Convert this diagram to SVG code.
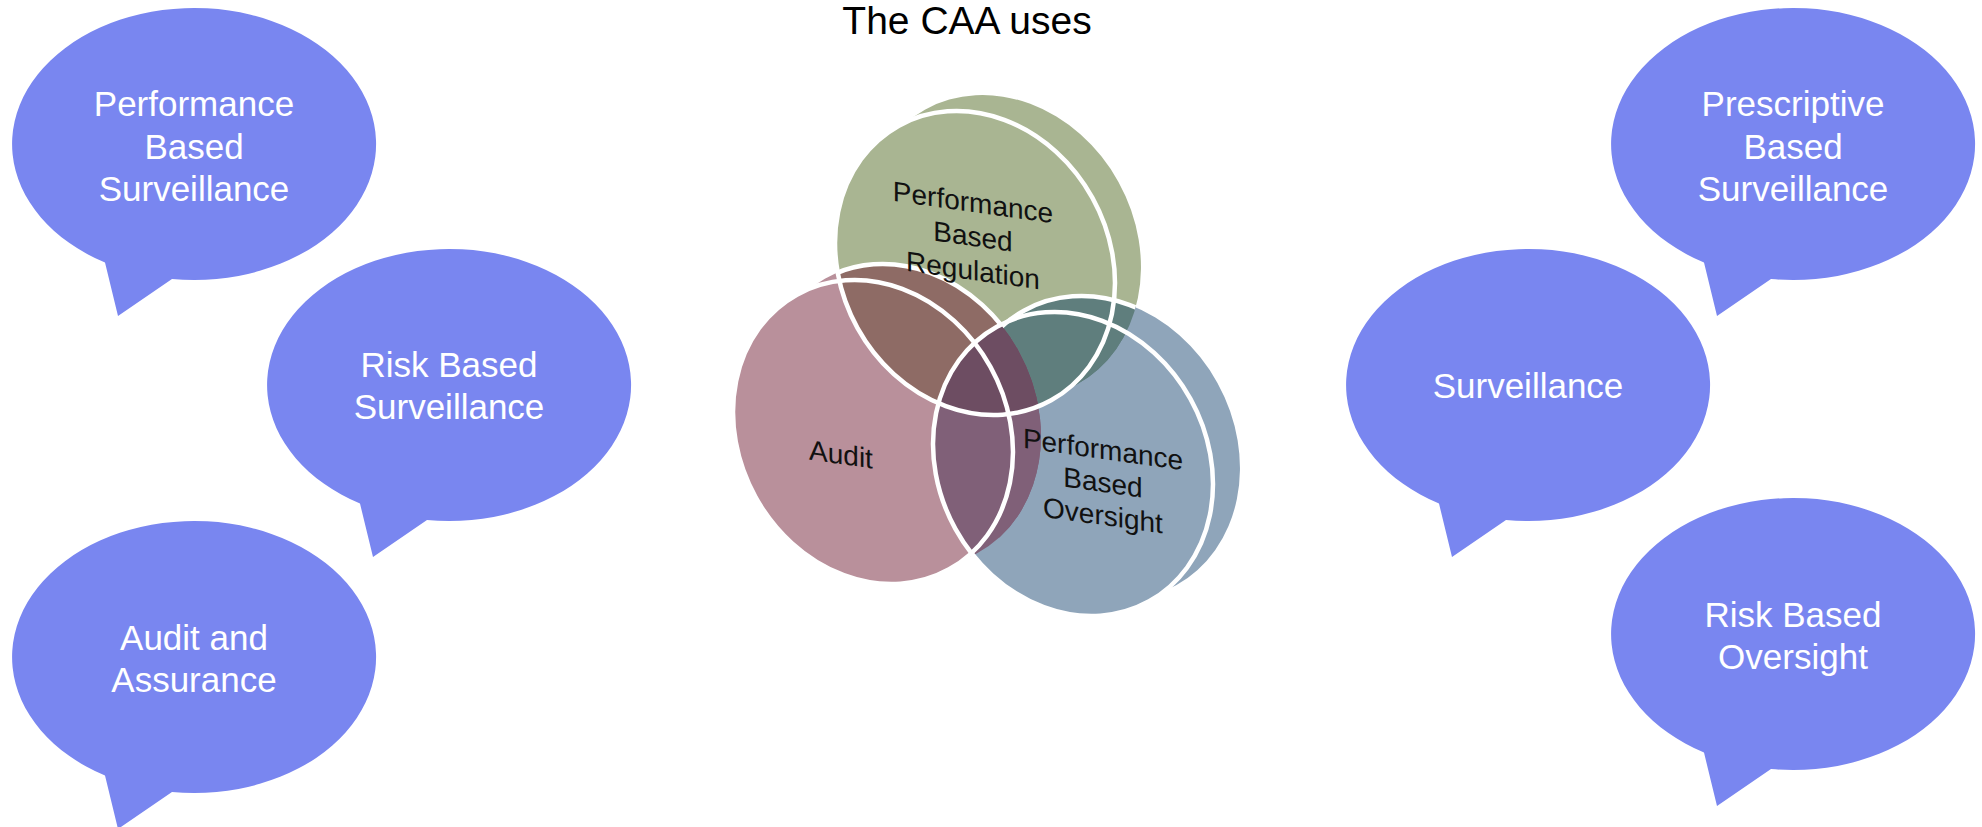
<svg xmlns="http://www.w3.org/2000/svg" xmlns:xlink="http://www.w3.org/1999/xlink" width="1982" height="827" viewBox="0 0 1982 827">
<style>
.bub{fill:#7986F0}
.bt{font-family:"Liberation Sans",Arial,sans-serif;font-size:35px;fill:#ffffff;text-anchor:middle}
.title{font-family:"Liberation Sans",Arial,sans-serif;font-size:39px;fill:#000000;text-anchor:middle}
.vt{font-family:"Liberation Sans",Arial,sans-serif;font-size:28px;fill:#111111;text-anchor:middle}
.g{fill:#A9B592}.p{fill:#B9909B}.b{fill:#8FA5BA}
.gp{fill:#8E6B65}.gb{fill:#5F7E7D}.pb{fill:#806078}.gpb{fill:#6D4D62}
.ws{fill:none;stroke:#ffffff;stroke-width:4.5}
</style>
<defs>
<path id="bubble" d="M -89 118.6 L -76 172 L -22 135 A 182 136 0 1 0 -89 118.6 Z"/>
<ellipse id="gF" cx="975" cy="263" rx="157" ry="134.3" transform="rotate(61 975 263)"/>
<ellipse id="gB" cx="1001" cy="247" rx="157" ry="134.3" transform="rotate(61 1001 247)"/>
<ellipse id="pF" cx="873" cy="432" rx="157" ry="134.3" transform="rotate(61 873 432)"/>
<ellipse id="pB" cx="901" cy="416" rx="157" ry="134.3" transform="rotate(61 901 416)"/>
<ellipse id="bF" cx="1073" cy="464" rx="157" ry="134.3" transform="rotate(61 1073 464)"/>
<ellipse id="bB" cx="1100" cy="448" rx="157" ry="134.3" transform="rotate(61 1100 448)"/>
<clipPath id="clipG"><use xlink:href="#gF"/><use xlink:href="#gB"/></clipPath>
<clipPath id="clipP"><use xlink:href="#pF"/><use xlink:href="#pB"/></clipPath>
<mask id="notB" maskUnits="userSpaceOnUse" x="0" y="0" width="1982" height="827">
<rect x="0" y="0" width="1982" height="827" fill="#ffffff"/>
<use xlink:href="#bF" fill="#000000"/><use xlink:href="#bB" fill="#000000"/>
</mask>
<mask id="notP" maskUnits="userSpaceOnUse" x="0" y="0" width="1982" height="827">
<rect x="0" y="0" width="1982" height="827" fill="#ffffff"/>
<use xlink:href="#pF" fill="#000000"/><use xlink:href="#pB" fill="#000000"/>
</mask>
</defs>
<rect x="0" y="0" width="1982" height="827" fill="#ffffff"/>

<g id="title"><text class="title" x="967" y="34">The CAA uses</text></g>

<g id="bubble-performance-based-surveillance">
<use xlink:href="#bubble" class="bub" transform="translate(194 144)"/>
<text class="bt" x="194" y="116">Performance</text>
<text class="bt" x="194" y="159">Based</text>
<text class="bt" x="194" y="201">Surveillance</text>
</g>
<g id="bubble-risk-based-surveillance">
<use xlink:href="#bubble" class="bub" transform="translate(449 385)"/>
<text class="bt" x="449" y="377">Risk Based</text>
<text class="bt" x="449" y="419">Surveillance</text>
</g>
<g id="bubble-audit-and-assurance">
<use xlink:href="#bubble" class="bub" transform="translate(194 657)"/>
<text class="bt" x="194" y="650">Audit and</text>
<text class="bt" x="194" y="692">Assurance</text>
</g>
<g id="bubble-prescriptive-based-surveillance">
<use xlink:href="#bubble" class="bub" transform="translate(1793 144)"/>
<text class="bt" x="1793" y="116">Prescriptive</text>
<text class="bt" x="1793" y="159">Based</text>
<text class="bt" x="1793" y="201">Surveillance</text>
</g>
<g id="bubble-surveillance">
<use xlink:href="#bubble" class="bub" transform="translate(1528 385)"/>
<text class="bt" x="1528" y="398">Surveillance</text>
</g>
<g id="bubble-risk-based-oversight">
<use xlink:href="#bubble" class="bub" transform="translate(1793 634)"/>
<text class="bt" x="1793" y="627">Risk Based</text>
<text class="bt" x="1793" y="669">Oversight</text>
</g>

<g id="venn">
<g id="disc-performance-based-regulation"><use xlink:href="#gB" class="g"/><use xlink:href="#gF" class="g"/></g>
<g id="disc-audit"><use xlink:href="#pB" class="p"/><use xlink:href="#pF" class="p"/></g>
<g id="disc-performance-based-oversight"><use xlink:href="#bB" class="b"/><use xlink:href="#bF" class="b"/></g>
<g id="overlaps">
<g clip-path="url(#clipG)"><use xlink:href="#pB" class="gp"/><use xlink:href="#pF" class="gp"/></g>
<g clip-path="url(#clipG)"><use xlink:href="#bB" class="gb"/><use xlink:href="#bF" class="gb"/></g>
<g clip-path="url(#clipP)"><use xlink:href="#bB" class="pb"/><use xlink:href="#bF" class="pb"/></g>
<g clip-path="url(#clipG)"><g clip-path="url(#clipP)"><use xlink:href="#bB" class="gpb"/><use xlink:href="#bF" class="gpb"/></g></g>
</g>
<g id="outlines">
<g clip-path="url(#clipG)"><g mask="url(#notB)"><use xlink:href="#pB" class="ws"/></g></g>
<g clip-path="url(#clipG)"><g mask="url(#notP)"><use xlink:href="#bB" class="ws"/></g></g>
<use xlink:href="#gF" class="ws"/>
<use xlink:href="#pF" class="ws"/>
<use xlink:href="#bF" class="ws"/>
</g>
<g id="label-regulation" transform="matrix(1 0.14 0 1 0 -136.2)">
<text class="vt" x="973" y="212">Performance</text>
<text class="vt" x="973" y="246">Based</text>
<text class="vt" x="973" y="280">Regulation</text>
</g>
<g id="label-audit" transform="matrix(1 0.14 0 1 0 -117.7)">
<text class="vt" x="841" y="464">Audit</text>
</g>
<g id="label-oversight" transform="matrix(1 0.14 0 1 0 -154.4)">
<text class="vt" x="1103" y="459">Performance</text>
<text class="vt" x="1103" y="492">Based</text>
<text class="vt" x="1103" y="525">Oversight</text>
</g>
</g>
<g id="connectors"/>
</svg>
